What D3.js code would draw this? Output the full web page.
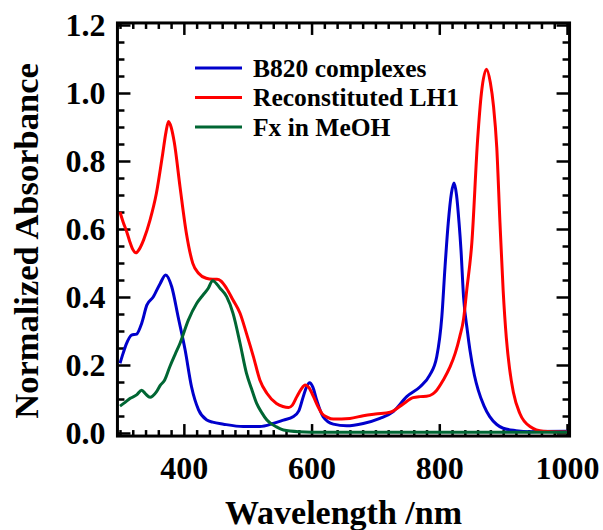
<!DOCTYPE html>
<html>
<head>
<meta charset="utf-8">
<script src="https://cdn.jsdelivr.net/npm/d3@7"></script>
<style>
  body { margin: 0; background: #fff; }
  text { font-family: "Liberation Serif", "Times New Roman", serif; font-weight: bold; fill: #000; }
</style>
</head>
<body>
<div id="chart"></div>
<script>
// B820 complexes (blue)
const b820Wl  = [300, 305, 310, 318, 326, 334, 342, 352, 363, 371.5, 381, 391, 402, 412, 423, 436, 445, 462, 493, 519, 540, 556, 571, 580, 587, 592, 597, 602, 608, 618, 634, 655, 681, 707, 728, 749, 770, 785, 796, 804, 809, 814, 819, 823, 827, 831, 834, 838, 844, 848, 855, 861, 870, 879, 890, 900, 920, 942, 1000];
const b820Abs = [0.205, 0.235, 0.262, 0.288, 0.291, 0.323, 0.376, 0.400, 0.440, 0.465, 0.430, 0.342, 0.244, 0.136, 0.068, 0.038, 0.032, 0.026, 0.019, 0.019, 0.028, 0.038, 0.048, 0.065, 0.107, 0.135, 0.148, 0.135, 0.097, 0.048, 0.026, 0.021, 0.028, 0.043, 0.063, 0.107, 0.136, 0.170, 0.224, 0.342, 0.489, 0.617, 0.705, 0.735, 0.700, 0.617, 0.538, 0.400, 0.300, 0.244, 0.170, 0.126, 0.080, 0.048, 0.025, 0.014, 0.007, 0.004, 0.005];

// Reconstituted LH1 (red)
const lh1Wl  = [300, 305, 310, 315, 320, 325, 330, 337, 347, 357, 367, 372, 376, 380, 385, 394, 404, 414, 423, 435, 445, 452, 458, 467, 477, 488, 498, 509, 519, 530, 545, 555, 564, 570, 577, 584, 590, 596, 603, 610, 616, 625, 634, 660, 681, 700, 723, 741, 759, 770, 780, 790, 796, 806, 817, 825, 832, 838, 843, 851, 860, 866, 874, 880, 885, 890, 895, 900, 905, 910, 916, 926, 942, 963, 1000];
const lh1Abs = [0.650, 0.620, 0.595, 0.565, 0.540, 0.530, 0.540, 0.568, 0.626, 0.705, 0.823, 0.885, 0.916, 0.900, 0.855, 0.724, 0.587, 0.499, 0.470, 0.455, 0.452, 0.452, 0.447, 0.425, 0.391, 0.352, 0.293, 0.224, 0.156, 0.117, 0.087, 0.078, 0.075, 0.082, 0.107, 0.130, 0.141, 0.133, 0.107, 0.078, 0.058, 0.046, 0.041, 0.043, 0.051, 0.056, 0.061, 0.082, 0.104, 0.107, 0.108, 0.115, 0.126, 0.155, 0.195, 0.235, 0.283, 0.335, 0.420, 0.560, 0.862, 1.000, 1.070, 1.030, 0.960, 0.840, 0.620, 0.420, 0.280, 0.190, 0.120, 0.058, 0.019, 0.005, 0.003];

// Fx in MeOH (green)
const fxWl  = [300, 308, 316, 326, 334, 340, 347, 357, 363, 370, 378, 386, 394, 407, 420, 430, 438, 445, 457, 467, 477, 488, 498, 506, 514, 522, 530, 545, 556, 580, 620, 1000];
const fxAbs = [0.079, 0.090, 0.102, 0.112, 0.126, 0.115, 0.105, 0.121, 0.140, 0.156, 0.195, 0.230, 0.264, 0.332, 0.381, 0.406, 0.425, 0.448, 0.425, 0.401, 0.352, 0.264, 0.176, 0.130, 0.087, 0.060, 0.038, 0.018, 0.009, 0.004, 0.002, 0.002];

const seriesNames  = ["B820 complexes", "Reconstituted LH1", "Fx in MeOH"];
const seriesColors = ["#0000cc", "#ff0000", "#006633"];

const xMajor = [400, 600, 800, 1000];
const xMinor = d3.range(300, 1001, 20).filter(v => !xMajor.includes(v));
const yMajor = [0, 0.2, 0.4, 0.6, 0.8, 1.0, 1.2];
const yMinor = d3.range(0, 1.21, 0.05).filter(v => Math.abs(v * 5 - Math.round(v * 5)) > 1e-6);

const W = 603, H = 530;

const svg = d3.select("#chart").append("svg")
    .attr("width", W)
    .attr("height", H);

const x = d3.scaleLinear().domain([300, 1000]).range([120, 567]);
const y = d3.scaleLinear().domain([0, 1.2]).range([433, 25]);

// frame edges (slightly outside data range)
const frameL = x(296), frameR = x(1004), frameT = y(1.206), frameB = y(-0.009);

// bottom axis with labels
svg.append("g").attr("transform", `translate(0,${frameB})`)
    .call(d3.axisBottom(x).tickValues(xMajor).tickSize(-12).tickPadding(20).tickFormat(d3.format("d")));
svg.append("g").attr("transform", `translate(0,${frameB})`)
    .call(d3.axisBottom(x).tickValues(xMinor).tickSize(-6).tickFormat(""));
// top axis, ticks only
svg.append("g").attr("transform", `translate(0,${frameT})`)
    .call(d3.axisTop(x).tickValues(xMajor).tickSize(-12).tickFormat(""));
svg.append("g").attr("transform", `translate(0,${frameT})`)
    .call(d3.axisTop(x).tickValues(xMinor).tickSize(-6).tickFormat(""));

// left axis with labels
svg.append("g").attr("transform", `translate(${frameL},0)`)
    .call(d3.axisLeft(y).tickValues(yMajor).tickSize(-13).tickPadding(12).tickFormat(d3.format(".1f")));
svg.append("g").attr("transform", `translate(${frameL},0)`)
    .call(d3.axisLeft(y).tickValues(yMinor).tickSize(-7).tickFormat(""));
// right axis, ticks only
svg.append("g").attr("transform", `translate(${frameR},0)`)
    .call(d3.axisRight(y).tickValues(yMajor).tickSize(-13).tickFormat(""));
svg.append("g").attr("transform", `translate(${frameR},0)`)
    .call(d3.axisRight(y).tickValues(yMinor).tickSize(-7).tickFormat(""));

svg.selectAll(".domain").remove();
svg.selectAll(".tick line").attr("stroke", "#000").attr("stroke-width", 2.5);
svg.selectAll(".tick text")
    .style("font-family", "'Liberation Serif', 'Times New Roman', serif")
    .style("font-weight", "bold")
    .style("font-size", "32px")
    .attr("fill", "#000");

// frame
svg.append("rect")
    .attr("x", frameL).attr("y", frameT)
    .attr("width", frameR - frameL).attr("height", frameB - frameT)
    .attr("fill", "none").attr("stroke", "#000").attr("stroke-width", 3);

// curves
const series = [
    { wl: b820Wl, abs: b820Abs },
    { wl: lh1Wl, abs: lh1Abs },
    { wl: fxWl, abs: fxAbs }
];
const line = d3.line()
    .x(d => x(d[0]))
    .y(d => y(d[1]))
    .curve(d3.curveMonotoneX);

svg.append("g").selectAll("path")
    .data(series)
    .enter()
    .append("path")
    .attr("d", s => line(d3.zip(s.wl, s.abs)))
    .attr("fill", "none")
    .attr("stroke", (s, i) => seriesColors[i])
    .attr("stroke-width", 3)
    .attr("stroke-linejoin", "round");

// legend
const legend = svg.append("g");
seriesNames.forEach((name, i) => {
    const ly = 68 + i * 29.5;
    legend.append("line")
        .attr("x1", 195).attr("x2", 242)
        .attr("y1", ly).attr("y2", ly)
        .attr("stroke", seriesColors[i])
        .attr("stroke-width", 3);
    legend.append("text")
        .attr("x", 253)
        .attr("y", ly + 8.5)
        .style("font-size", "25.5px")
        .text(name);
});

// axis titles
svg.append("text")
    .attr("x", (frameL + frameR) / 2)
    .attr("y", 524)
    .attr("text-anchor", "middle")
    .style("font-size", "34px")
    .text("Wavelength /nm");

svg.append("text")
    .attr("transform", "translate(38,241) rotate(-90)")
    .attr("text-anchor", "middle")
    .style("font-size", "34.5px")
    .text("Normalized Absorbance");
</script>
</body>
</html>
